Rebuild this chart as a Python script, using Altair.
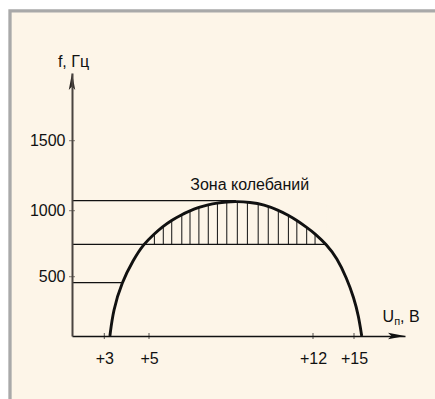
import altair as alt
import pandas as pd

FONT = "Liberation Sans"
INK = "#111111"
PAPER = "#fdf5e8"
FRAME = "#a9a9a9"

# Boundary of the oscillation zone: supply voltage (V) vs frequency (Hz)
u_curve = [3.25, 3.40, 3.78, 4.30, 4.74, 5.26, 5.57, 5.94, 6.37, 6.75,
           7.13, 7.53, 7.90, 8.31, 8.71, 9.31, 9.91, 10.52, 10.95, 11.30,
           11.70, 12.15, 13.00, 13.75, 14.46, 15.00, 15.33, 15.56]
f_curve = [0, 219, 453, 627, 744, 830, 878, 925, 968, 999,
           1024, 1043, 1055, 1063, 1066, 1061, 1044, 1004, 966, 928,
           878, 827, 742, 642, 489, 320, 169, 0]

# Vertical hatching inside the zone
u_hatch = [5.23, 5.61, 5.97, 6.40, 6.75, 7.13, 7.53, 7.92, 8.32, 8.77,
           9.20, 9.66, 10.09, 10.52, 10.95, 11.31, 11.73, 12.15]
f_hatch_low = 745
f_hatch_high = 1075
f_cover_top = 1082

# Horizontal reference levels and the voltage where each reaches the curve
f_levels = [1072, 745, 450]
u_level_end = [8.71, 13.0, 3.78]

x_ticks = [3, 5, 12, 15]
y_ticks = [500, 1000, 1500]

# Schematic, piecewise axes
x_domain = [1.5, 3, 5, 12, 15, 18.7]
x_range = [0, 32.3, 77, 241, 282, 333]
y_domain = [0, 500, 1000, 1500, 1980]
y_range = [263, 203.7, 137.7, 67.7, 0]

curve = pd.DataFrame({"u": u_curve, "f": f_curve})
cover = curve[curve["f"] >= 742].assign(top=f_cover_top)
hatch = pd.DataFrame({"u": u_hatch, "f0": f_hatch_low, "f1": f_hatch_high})
levels = pd.DataFrame({"u0": x_domain[0], "u1": u_level_end, "f": f_levels})
xt = pd.DataFrame({"u": x_ticks})
yt = pd.DataFrame({"f": y_ticks})
x_end = pd.DataFrame({"u": [x_domain[-1]], "f": [y_domain[0]]})
y_end = pd.DataFrame({"u": [x_domain[0]], "f": [y_domain[-1]]})

xs = alt.Scale(domain=x_domain, range=x_range, nice=False, zero=False)
ys = alt.Scale(domain=y_domain, range=y_range, nice=False, zero=False)

x_axis = alt.Axis(values=x_ticks, labelExpr="'+' + datum.value", ticks=False,
                  tickSize=0, domainColor=INK, domainWidth=1.5, grid=False,
                  labelFont=FONT, labelFontSize=16, labelColor=INK,
                  labelPadding=14, labelFlush=False, labelOverlap=False,
                  title=None, zindex=1)
y_axis = alt.Axis(values=y_ticks, format="d", ticks=False, tickSize=0,
                  domainColor="#4a4440", domainWidth=2, grid=False,
                  labelFont=FONT, labelFontSize=16, labelColor=INK,
                  labelPadding=7, labelFlush=False, labelOverlap=False,
                  title=None, zindex=1)


def X(field):
    return alt.X(field, type="quantitative", scale=xs, axis=x_axis)


def Y(field):
    return alt.Y(field, type="quantitative", scale=ys, axis=y_axis)


frame = alt.Chart(pd.DataFrame({"k": [0]})).mark_rect(
    fill=PAPER, stroke=FRAME, strokeWidth=3.3
).encode(x=alt.value(-62), x2=alt.value(600), y=alt.value(-62.2), y2=alt.value(600))

hatch_rules = alt.Chart(hatch).mark_rule(color=INK, strokeWidth=1).encode(
    x=X("u"), y=Y("f0"), y2="f1"
)

cover_area = alt.Chart(cover).mark_area(
    color=PAPER, opacity=1, interpolate="basis"
).encode(x=X("u"), y=Y("f"), y2="top")

level_rules = alt.Chart(levels).mark_rule(color=INK, strokeWidth=1.2).encode(
    x=X("u0"), x2="u1", y=Y("f")
)

curve_line = alt.Chart(curve).mark_line(
    color=INK, strokeWidth=2.9, interpolate="basis"
).encode(x=X("u"), y=Y("f"))

x_tick_marks = alt.Chart(xt).mark_tick(
    color=INK, size=6, thickness=1, orient="vertical"
).encode(x=X("u"), y=alt.value(263))

y_tick_marks = alt.Chart(yt).mark_tick(
    color="#4a4440", size=6, thickness=1, orient="horizontal"
).encode(y=Y("f"), x=alt.value(0))

arrow_right = alt.Chart(x_end).mark_point(
    shape="M 0 0 L -2 -0.38 L -1.6 0 L -2 0.38 Z", size=289,
    filled=True, opacity=1, color=INK
).encode(x=X("u"), y=Y("f"))

arrow_up = alt.Chart(y_end).mark_point(
    shape="M 0 0 L -0.38 2 L 0 1.6 L 0.38 2 Z", size=289,
    filled=True, opacity=1, color="#2a2522"
).encode(x=X("u"), y=Y("f"))


def label(text, x, y, size=16, align="left"):
    return alt.Chart(pd.DataFrame({"t": [text]})).mark_text(
        font=FONT, fontSize=size, color=INK, align=align, baseline="alphabetic"
    ).encode(text="t:N", x=alt.value(x), y=alt.value(y))


zone_label = label("Зона колебаний", 177.7, 117, align="center")
f_label = label("f, Гц", 1.5, -6.3, align="center")
u_label = label("U", 310.5, 248.7)
u_sub = label("п", 322.3, 251.5, size=11)
u_unit = label(", В", 328, 248.7)

chart = alt.layer(
    frame, hatch_rules, cover_area, level_rules, curve_line,
    x_tick_marks, y_tick_marks, arrow_right, arrow_up,
    zone_label, f_label, u_label, u_sub, u_unit
).properties(
    width=333, height=263,
    padding={"left": 72, "top": 73, "right": 30, "bottom": 63},
    autosize=alt.AutoSizeParams(type="none"),
    background="white"
).configure_view(stroke=None)

chart.save("out.html", embed_options={"renderer": "svg", "actions": False})
